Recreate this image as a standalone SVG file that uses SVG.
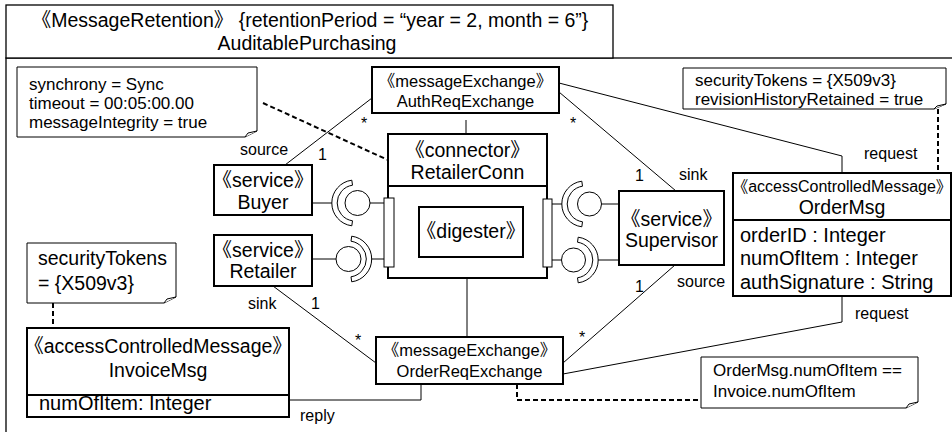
<svg xmlns="http://www.w3.org/2000/svg" width="952" height="432" viewBox="0 0 952 432">
<style>
.t{font-family:"Liberation Sans","Noto Sans CJK JP",sans-serif;fill:#000}
.c{text-anchor:middle}
.box{fill:#fff;stroke:#000;stroke-width:2}
.thin{fill:#fff;stroke:#000;stroke-width:1}
.note{fill:#fff;stroke:#000;stroke-width:1}
.ln{fill:none;stroke:#000;stroke-width:1}
.dash{fill:none;stroke:#000;stroke-width:2;stroke-dasharray:5 3}
.lbl{font-size:16px}
.nt{font-size:17px}
.nm{font-size:19.5px}
.sm{font-size:16.5px}
.at{font-size:20px}
</style>
<rect width="952" height="432" fill="#fff"/>
<g id="frame">
  <rect x="6" y="58" width="960" height="400" fill="none" stroke="#000" stroke-width="1.3"/>
  <rect x="6" y="5" width="607" height="53" fill="#fff" stroke="#000" stroke-width="1.3"/>
  <text class="t c nm" x="310" y="27">《MessageRetention》 {retentionPeriod = “year = 2, month = 6”}</text>
  <text class="t c nm" x="307" y="50">AuditablePurchasing</text>
</g>
<g id="connectors">
  <line class="ln" x1="372" y1="98" x2="285" y2="165"/>
  <line class="ln" x1="559" y1="92" x2="676" y2="191"/>
  <polyline class="ln" points="559,83 842,156 842,173"/>
  <line class="ln" x1="466" y1="120" x2="466" y2="134"/>
  <line class="ln" x1="467" y1="278" x2="467" y2="337"/>
  <line class="ln" x1="273" y1="286" x2="376" y2="363"/>
  <line class="ln" x1="563" y1="363" x2="675" y2="265"/>
  <polyline class="ln" points="842,296 842,322 563,374"/>
  <polyline class="ln" points="421,384 421,400 289,400"/>
  <line class="dash" x1="263" y1="103" x2="388" y2="160"/>
  <line class="dash" x1="938" y1="109" x2="938" y2="173"/>
  <line class="dash" x1="53" y1="303" x2="53" y2="328"/>
  <polyline class="dash" points="517,384 517,400 701,400"/>
  <line class="ln" x1="312" y1="203" x2="332" y2="203"/>
  <line class="ln" x1="370" y1="203" x2="384" y2="203"/>
  <line class="ln" x1="312" y1="259" x2="336" y2="259"/>
  <line class="ln" x1="371.5" y1="259" x2="384" y2="259"/>
  <line class="ln" x1="552" y1="204" x2="562" y2="204"/>
  <line class="ln" x1="601.5" y1="204" x2="619" y2="204"/>
  <line class="ln" x1="552" y1="260" x2="561.5" y2="260"/>
  <line class="ln" x1="598" y1="260" x2="619" y2="260"/>
  <line class="ln" x1="394" y1="232" x2="419" y2="232"/>
  <line class="ln" x1="523" y1="232" x2="543" y2="232"/>
  <text class="t lbl" x="240" y="155">source</text>
  <text class="t lbl" x="318" y="160">1</text>
  <text class="t lbl c" x="364" y="129">*</text>
  <text class="t lbl c" x="573" y="129">*</text>
  <text class="t lbl" x="635" y="181">1</text>
  <text class="t lbl" x="679" y="180">sink</text>
  <text class="t lbl" x="864" y="159">request</text>
  <text class="t lbl" x="635" y="292">1</text>
  <text class="t lbl" x="677" y="287">source</text>
  <text class="t lbl c" x="582" y="343">*</text>
  <text class="t lbl" x="855" y="319">request</text>
  <text class="t lbl" x="248" y="309">sink</text>
  <text class="t lbl" x="311" y="309">1</text>
  <text class="t lbl c" x="358" y="346">*</text>
  <text class="t lbl" x="300" y="421">reply</text>
</g>
<g id="note-sync">
  <path class="note" d="M17 67H257V131L245 137H17Z"/>
  <path class="note" d="M257 131L248 133L245 137"/>
  <text class="t nt" x="29" y="90">synchrony = Sync</text>
  <text class="t nt" x="29" y="109">timeout = 00:05:00.00</text>
  <text class="t nt" x="29" y="128">messageIntegrity = true</text>
</g>
<g id="note-orderMsg">
  <path class="note" d="M683 68H946V104L934 109H683Z"/>
  <path class="note" d="M946 104L937 106L934 109"/>
  <text class="t nt" x="695" y="86">securityTokens = {X509v3}</text>
  <text class="t nt" x="695" y="105">revisionHistoryRetained = true</text>
</g>
<g id="note-invoice">
  <path class="note" d="M27 243H176V297L164 303H27Z"/>
  <path class="note" d="M176 297L167 299L164 303"/>
  <text class="t nm" x="38" y="265">securityTokens</text>
  <text class="t nm" x="38" y="290">= {X509v3}</text>
</g>
<g id="note-constraint">
  <path class="note" d="M701 357H918V402L906 408H701Z"/>
  <path class="note" d="M918 402L909 404L906 408"/>
  <text class="t nt" x="713" y="376">OrderMsg.numOfItem ==</text>
  <text class="t nt" x="713" y="397">Invoice.numOfItem</text>
</g>
<g id="AuthReqExchange">
  <rect class="box" x="372" y="67" width="187" height="46"/>
  <text class="t c sm" x="465.5" y="87">《messageExchange》</text>
  <text class="t c sm" x="465.5" y="107">AuthReqExchange</text>
</g>
<g id="RetailerConn">
  <rect class="box" x="388" y="134" width="159" height="144"/>
  <line x1="388" y1="186" x2="547" y2="186" stroke="#000" stroke-width="2"/>
  <text class="t c nm" x="467.5" y="157">《connector》</text>
  <text class="t c nm" x="467.5" y="179">RetailerConn</text>
  <rect class="thin" x="384" y="198" width="10" height="69"/>
  <rect class="thin" x="543" y="199" width="9" height="68"/>
</g>
<g id="digester">
  <rect class="box" x="419" y="207" width="104" height="50"/>
  <text class="t c nm" x="471" y="238">《digester》</text>
</g>
<g id="Buyer">
  <rect class="box" x="214" y="165" width="98" height="50"/>
  <text class="t c nm" x="263" y="187">《service》</text>
  <text class="t c nm" x="263" y="209">Buyer</text>
</g>
<g id="Retailer">
  <rect class="box" x="214" y="235" width="98" height="51"/>
  <text class="t c nm" x="263" y="257">《service》</text>
  <text class="t c nm" x="263" y="278">Retailer</text>
</g>
<g id="Supervisor">
  <rect class="box" x="619" y="191" width="105" height="74"/>
  <text class="t c nm" x="671.5" y="226">《service》</text>
  <text class="t c nm" x="671.5" y="247">Supervisor</text>
</g>
<g id="interfaces">
  <path class="thin" d="M351.8 180.2A23 23 0 0 0 351.8 225.8L352.5 220.8A18 18 0 0 1 352.5 185.2Z"/>
  <circle class="thin" cx="357.5" cy="203" r="12.5"/>
  <circle class="thin" cx="348.5" cy="259" r="12.5"/>
  <path class="thin" d="M351.7 236.2A23 23 0 0 1 351.7 281.8L351 276.8A18 18 0 0 0 351 241.2Z"/>
  <path class="thin" d="M581.8 181.2A23 23 0 0 0 581.8 226.8L582.5 221.8A18 18 0 0 1 582.5 186.2Z"/>
  <circle class="thin" cx="589.5" cy="204" r="12"/>
  <circle class="thin" cx="573.5" cy="260" r="12"/>
  <path class="thin" d="M578.2 237.2A23 23 0 0 1 578.2 282.8L577.5 277.8A18 18 0 0 0 577.5 242.2Z"/>
</g>
<g id="OrderMsg">
  <rect class="box" x="733" y="173" width="218" height="123"/>
  <line x1="733" y1="220" x2="951" y2="220" stroke="#000" stroke-width="2"/>
  <text class="t c" font-size="16" x="842" y="192">《accessControlledMessage》</text>
  <text class="t c nm" x="842" y="214">OrderMsg</text>
  <text class="t at" x="740" y="242">orderID : Integer</text>
  <text class="t at" x="740" y="265">numOfItem : Integer</text>
  <text class="t at" x="740" y="289">authSignature : String</text>
</g>
<g id="OrderReqExchange">
  <rect class="box" x="376" y="337" width="187" height="47"/>
  <text class="t c sm" x="469.5" y="356">《messageExchange》</text>
  <text class="t c sm" x="469.5" y="377">OrderReqExchange</text>
</g>
<g id="InvoiceMsg">
  <rect class="box" x="27" y="328" width="262" height="89"/>
  <line x1="27" y1="395" x2="289" y2="395" stroke="#000" stroke-width="2"/>
  <text class="t c nm" x="158" y="353">《accessControlledMessage》</text>
  <text class="t c nm" x="158" y="377">InvoiceMsg</text>
  <text class="t at" x="39" y="410">numOfItem: Integer</text>
</g>
</svg>
